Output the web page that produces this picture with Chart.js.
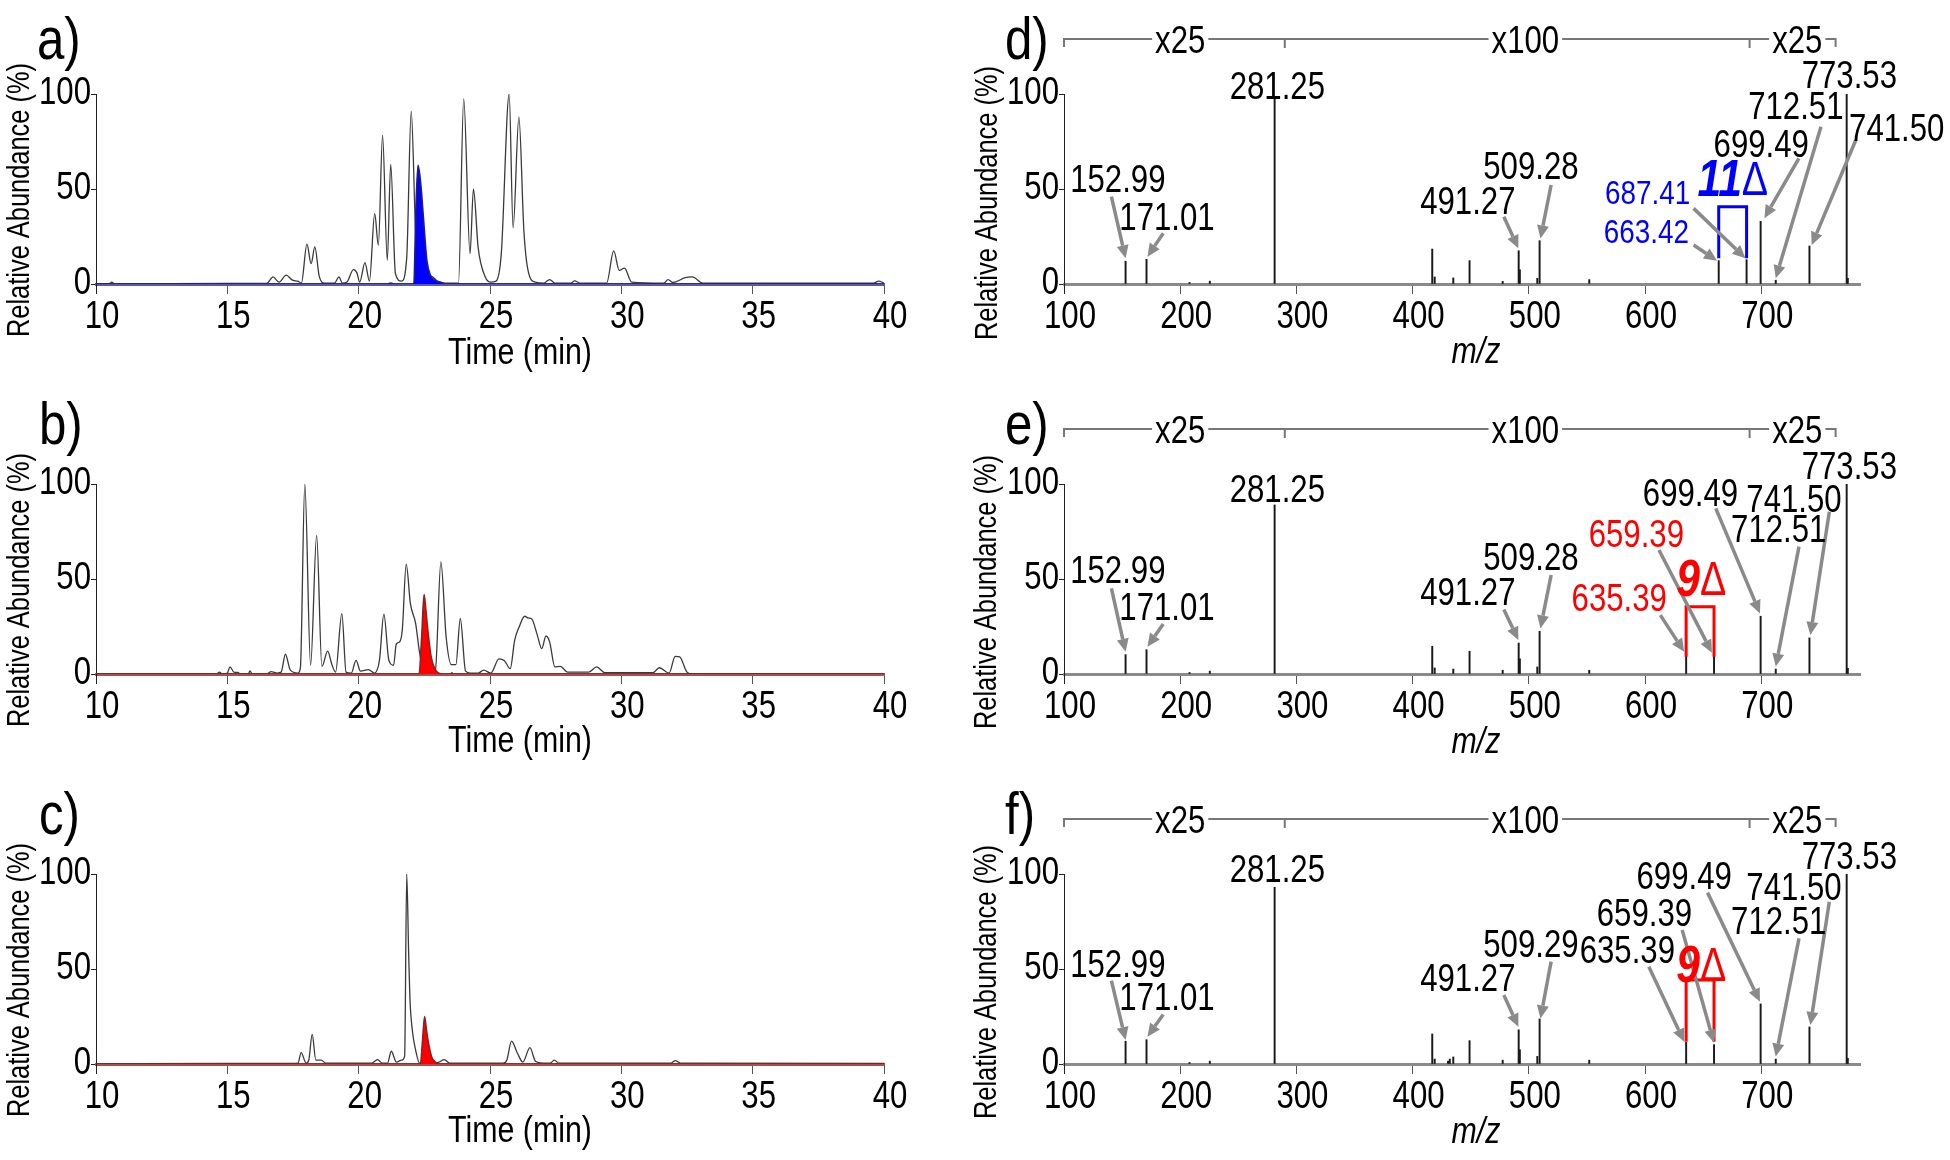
<!DOCTYPE html>
<html>
<head>
<meta charset="utf-8">
<script src="https://cdn.jsdelivr.net/npm/chart.js@4.4.1/dist/chart.umd.min.js"></script>
<style>
  body { margin: 0; background: #fff; }
  #fig { position: relative; width: 1950px; height: 1160px; overflow: hidden; }
  canvas { position: absolute; }
</style>
</head>
<body>
<div id="fig">
  <canvas id="a" width="960" height="390" style="left:0;top:0"></canvas>
  <canvas id="b" width="960" height="390" style="left:0;top:390px"></canvas>
  <canvas id="c" width="960" height="380" style="left:0;top:780px"></canvas>
  <canvas id="d" width="990" height="390" style="left:960px;top:0"></canvas>
  <canvas id="e" width="990" height="390" style="left:960px;top:390px"></canvas>
  <canvas id="f" width="990" height="380" style="left:960px;top:780px"></canvas>
</div>
<script>
const FONT = '"Liberation Sans", Arial, sans-serif';
const NARROW = 0.82;   // no narrow face installed, so squeeze the glyphs
Chart.defaults.font.family = FONT;
Chart.defaults.color = '#000';

// chromatograms, [time (min), relative abundance (%)]
const traceA = [[10,0],[10.5,0],[10.6,1],[10.7,0],[15,0.3],[16.5,0.3],[16.74,3.7],[16.97,1],[17.24,4.7],[17.48,2],
  [17.68,1.5],[17.82,0.5],[18.03,21],[18.19,10.7],[18.33,19.5],[18.5,4],[18.7,0.5],[19.08,0.5],[19.25,3.7],[19.38,0.5],
  [19.55,1],[19.8,7.6],[19.93,6],[20.04,1],[20.24,11.2],[20.41,1.5],[20.61,37],[20.75,20.4],[20.91,78.4],[21.09,12.5],
  [21.22,63],[21.4,5.4],[21.63,1.5],[21.83,14],[22.0,91],[22.17,26.5],[22.3,5],[22.5,3.5],[22.78,4],[22.99,1.5],
  [23.2,0.5],[23.8,0.5],[24.0,97.4],[24.24,16],[24.37,50],[24.55,19],[24.82,3.7],[25.03,1],[25.23,1.5],[25.43,16],
  [25.73,100],[25.88,29.5],[26.1,88],[26.29,28],[26.45,7],[26.72,1],[27.05,0.5],[27.27,2.3],[27.47,0.5],[28.08,0.5],
  [28.22,1.6],[28.43,0.5],[29.44,0.5],[29.71,17.4],[29.92,7.2],[30.12,8.4],[30.39,1],[31.62,0.5],[31.78,2.3],[31.96,0.8],
  [32.43,3.3],[32.7,3.7],[33.1,0.5],[39.6,0.5],[39.8,1.5],[40,0.5]];
const selA = [[10,0],[21.1,0],[21.22,0.5],[21.35,0],[22.1,0],[22.18,40],[22.26,62.5],[22.33,57],[22.4,47],[22.51,26.5],
  [22.6,12],[22.72,5],[22.9,2],[23.1,1],[23.33,0],[40,0]];

const traceB = [[10,0],[14.6,0],[14.7,1],[14.8,0],[15.0,0.5],[15.1,3.7],[15.25,1],[15.4,0.8],[15.5,0],[15.8,0],
  [15.86,1.6],[15.95,0],[16.5,0],[16.67,1.2],[16.9,0.5],[17.05,1],[17.21,10.4],[17.4,2],[17.68,0.5],[17.78,3],
  [17.95,100],[18.17,4.6],[18.4,73],[18.6,4],[18.82,12],[18.98,5],[19.12,1],[19.36,31.8],[19.52,1],[19.72,0.5],
  [19.9,7.2],[20.07,1.5],[20.37,2.3],[20.6,0.5],[20.79,7.2],[20.96,31.5],[21.15,7.2],[21.33,4.6],[21.43,15.6],[21.56,16.9],
  [21.66,23],[21.81,57.8],[21.97,37],[22.17,26.5],[22.31,12],[22.45,3],[22.7,0.5],[22.92,2],[23.13,59],[23.33,19.5],
  [23.53,4.9],[23.7,4.9],[23.87,29.2],[24.07,1.5],[24.25,0.5],[24.55,0.5],[24.76,2],[25.03,0.5],[25.34,8],[25.55,7],
  [25.77,2.8],[25.94,17.8],[26.11,24.8],[26.32,30.4],[26.45,29.5],[26.59,29],[26.79,21],[26.97,13.4],[27.13,20],[27.27,16.9],
  [27.47,3.7],[27.68,4],[27.95,1],[28.76,1],[29.06,3.7],[29.37,0.7],[31.2,0.7],[31.45,3.3],[31.82,0.5],[32.05,9.3],
  [32.22,9],[32.5,1],[32.7,0],[40,0]];
const selB = [[10,0],[22.3,0],[22.4,20],[22.49,41.8],[22.55,35],[22.62,24.8],[22.76,9],[22.92,2.3],[23.19,0],[23.5,0],
  [23.55,0.6],[23.6,0],[40,0]];

const traceC = [[10,0],[15,0.3],[17.5,0.3],[17.69,0.5],[17.81,6],[18.0,0.5],[18.1,2],[18.23,15.6],[18.37,2],[18.57,2],
  [18.75,0.5],[20.5,0.5],[20.72,2.3],[20.9,0.5],[21.1,0.5],[21.24,6.7],[21.44,1],[21.63,2],[21.75,4],[21.83,100],
  [21.9,60],[21.95,35],[22.05,17],[22.17,7.2],[22.32,0.5],[22.9,0.5],[23.06,1],[23.26,2.3],[23.46,0.5],[25.5,0.5],
  [25.64,2],[25.82,12],[26.05,5.5],[26.25,1],[26.52,8.6],[26.73,1.5],[27,0.5],[27.29,0.5],[27.45,2],[27.62,0.5],
  [31.9,0.5],[32.05,1.8],[32.25,0.5],[40,0.3]];
const selC = [[10,0],[22.35,0],[22.43,12],[22.51,25],[22.58,18],[22.65,11.6],[22.78,3.7],[22.92,1],[23.05,0],[40,0]];

// spectra, m/z and relative abundance (%)
const mzD  = [152.99,171.01,208,225.5,281.25,416.9,419,435,449,477.5,491.27,492.28,507.3,509.28,552,663.42,687.41,699.49,712.51,741.50,773.53,774.5];
const intD = [12,13,0.8,1.5,97.5,18.4,3.7,3.2,12.3,1.4,17.5,7.5,3,22.8,2.3,12.3,12.8,33,2,20,100,3];
const mzE  = [152.99,171.01,208,225.5,281.25,416.9,419,435,449,477.5,491.27,492.28,507.3,509.28,552,635.39,659.39,699.49,712.51,741.50,773.53,774.5];
const intE = [10.2,12.8,0.8,1.5,89,14.6,3.2,2.6,12,2,16.3,8,3.7,22.5,2,9.3,9.3,30.4,2.6,19,100,3];
const mzF  = [152.99,171.01,208,225.5,281.25,416.9,419,430.5,432,435,449,477.5,491.27,492.28,507.3,509.29,552,635.39,659.39,699.49,712.51,741.50,773.53,774.5];
const intF = [12,12.8,0.8,1.5,93,15.8,2.6,1.5,2.6,3.7,12.3,2,18,7.5,4,23.7,2,11.4,10.2,31.6,2.6,19.5,100,3];

// magnification bracket above the spectra
const zoomBreaks = [100, 290, 690, 764];
const zoomLabels = [['x25', 200], ['x100', 497], ['x25', 731]];

const RED = '#ff0000', BLUE = '#0000ff';

// per-panel text, arrows and boxes (data units)
const deco = {
  a: { letter: 'a)', lx: 37, ly: 42, xt: 'Time (min)', tx: 520, ty: 354, yx: 20, yy: 200 },
  b: { letter: 'b)', lx: 39, ly: 37, xt: 'Time (min)', tx: 520, ty: 352, yx: 20, yy: 200 },
  c: { letter: 'c)', lx: 39, ly: 37, xt: 'Time (min)', tx: 520, ty: 352, yx: 20, yy: 200 },
  d: { letter: 'd)', lx: 45, ly: 42, xt: 'm/z', italic: true, tx: 516, ty: 353, yx: 28, yy: 203, spec: true,
    labels: [['281.25',283.6,103],['152.99',146.3,53.9],['171.01',188.6,33.7],['491.27',447.5,42.1],['509.28',501.8,60.9],
      ['687.41',602.2,46.8,BLUE,34],['663.42',601.2,26.7,BLUE,34],['699.49',700,72.3],['712.51',729.8,92.5],
      ['741.50',816.6,81],['773.53',775.8,108.8]],
    delta: ['11', 675.6, 53.9, BLUE],
    box: [663.42, 687.41, 13.5, 40.7, BLUE],
    arrows: [[140.8,46,153,13.5],[185.4,26.7,171.8,14.4],[478.5,35.4,491,18.8],[519.2,52.1,510,24],[641.8,39.8,686.4,13.5],
      [641.8,20.5,662,12.3],[732.4,66.1,702.7,34.6],[751.4,82.8,712.5,3],[781.4,75.8,743.4,20.5]] },
  e: { letter: 'e)', lx: 45, ly: 37, xt: 'm/z', italic: true, tx: 516, ty: 353, yx: 27, yy: 202, spec: true,
    labels: [['281.25',283.6,96],['152.99',146.3,53.3],['171.01',188.6,33.7],['491.27',447.5,41.6],['509.28',501.8,60.4],
      ['659.39',592.5,72.3,RED],['635.39',577.8,38.9,RED],['699.49',639.1,94.2],['741.50',728.2,90.7],
      ['712.51',715.1,75],['773.53',775.8,108.3]],
    delta: ['9', 648.4, 48.6, RED],
    box: [635.39, 659.39, 9.1, 35.4, RED],
    arrows: [[140.8,45.1,153,11.7],[185.4,26.3,171.8,14.4],[478.5,34,491,17.9],[519.2,52.1,510,24],[612,65.3,657.6,11.2],
      [613.2,31,633.7,11.7],[660.9,87.2,698.9,31.9],[732.5,67,712.5,3.9],[758.6,85.4,742.3,20.5]] },
  f: { letter: 'f)', lx: 45, ly: 37, xt: 'm/z', italic: true, tx: 516, ty: 353, yx: 27, yy: 202, spec: true,
    labels: [['281.25',283.6,101.2],['152.99',146.3,51.2],['171.01',188.6,33.7],['491.27',447.5,44.2],['509.29',501.8,61.8],
      ['635.39',584.8,58.6],['659.39',599.5,78.4],['699.49',633.7,97.7],['741.50',728.2,91.6],
      ['712.51',715.1,73.7],['773.53',775.8,108.3]],
    delta: ['9', 648.4, 50.9, RED],
    box: [635.39, 659.39, 11.7, 44.2, RED],
    arrows: [[140.8,43.9,153,12.6],[185.4,26.1,171.8,14.4],[478.5,36.3,491,19.6],[519.2,53.9,510,24],[603.3,51.2,633.7,11.7],
      [632,70.5,659.3,11.2],[653.8,90.2,698.9,32.8],[732.5,66.1,712.5,3.9],[758.6,85.4,742.3,20.5]] }
};

function arrow(ctx, x1, y1, x2, y2) {
  const ang = Math.atan2(y2 - y1, x2 - x1), L = 13, W = 6;
  const bx = x2 - L * Math.cos(ang), by = y2 - L * Math.sin(ang);
  ctx.beginPath(); ctx.moveTo(x1, y1); ctx.lineTo(bx, by); ctx.stroke();
  ctx.beginPath(); ctx.moveTo(x2, y2);
  ctx.lineTo(bx + W * Math.sin(ang), by - W * Math.cos(ang));
  ctx.lineTo(bx - W * Math.sin(ang), by + W * Math.cos(ang));
  ctx.closePath(); ctx.fill();
}

// condensed text: font string, anchor, colour, rotation
function txt(ctx, s, x, y, font, align, color, rot) {
  ctx.save();
  ctx.translate(x, y);
  if (rot) ctx.rotate(rot);
  ctx.scale(NARROW, 1);
  ctx.font = font + ' ' + FONT;
  ctx.textAlign = align || 'center';
  ctx.textBaseline = 'middle';
  ctx.fillStyle = color || '#000';
  ctx.fillText(s, 0, 0);
  ctx.restore();
}
function txtWidth(ctx, s, font) {
  ctx.font = font + ' ' + FONT;
  return ctx.measureText(s).width * NARROW;
}

const decor = {
  id: 'decor',
  afterDraw(chart) {
    const d = deco[chart.canvas.id];
    const ctx = chart.ctx, ca = chart.chartArea, xs = chart.scales.x, ys = chart.scales.y;
    const px = v => xs.getPixelForValue(v), py = v => ys.getPixelForValue(v);
    ctx.save();
    // y axis runs on past the baseline
    ctx.strokeStyle = '#222'; ctx.lineWidth = 1;
    ctx.beginPath(); ctx.moveTo(ca.left + 0.5, ca.bottom); ctx.lineTo(ca.left + 0.5, ca.bottom + 10); ctx.stroke();

    // tick labels
    xs.ticks.forEach(t => txt(ctx, String(t.value), px(t.value) + 6, ca.bottom + 34, '38px'));
    ys.ticks.forEach(t => txt(ctx, String(t.value), ca.left - 5, py(t.value), '38px', 'right'));

    txt(ctx, d.letter, d.lx, d.ly, '60px', 'left');
    txt(ctx, d.xt, d.tx, d.ty, (d.italic ? 'italic ' : '') + '37px');
    txt(ctx, 'Relative Abundance (%)', d.yx, d.yy, '31px', 'center', '#000', -Math.PI / 2);

    if (d.spec) {
      const by = 39;
      ctx.strokeStyle = '#777'; ctx.lineWidth = 2;
      ctx.beginPath();
      ctx.moveTo(px(zoomBreaks[0]), by + 8); ctx.lineTo(px(zoomBreaks[0]), by);
      ctx.lineTo(px(zoomBreaks[3]), by); ctx.lineTo(px(zoomBreaks[3]), by + 8);
      ctx.moveTo(px(zoomBreaks[1]), by); ctx.lineTo(px(zoomBreaks[1]), by + 9);
      ctx.moveTo(px(zoomBreaks[2]), by); ctx.lineTo(px(zoomBreaks[2]), by + 9);
      ctx.stroke();
      zoomLabels.forEach(([t, m]) => {
        const w = txtWidth(ctx, t, '38px');
        ctx.fillStyle = '#fff'; ctx.fillRect(px(m) - w / 2 - 3, by - 4, w + 6, 8);
        txt(ctx, t, px(m), 43, '38px');
      });

      // bracket over the diagnostic pair
      const [b0, b1, bl, bt, bc] = d.box;
      ctx.strokeStyle = bc; ctx.lineWidth = 3;
      ctx.beginPath();
      ctx.moveTo(px(b0), py(bl)); ctx.lineTo(px(b0), py(bt)); ctx.lineTo(px(b1), py(bt)); ctx.lineTo(px(b1), py(bl));
      ctx.stroke();

      ctx.strokeStyle = '#8a8a8a'; ctx.fillStyle = '#8a8a8a'; ctx.lineWidth = 3.5;
      d.arrows.forEach(a => arrow(ctx, px(a[0]), py(a[1]), px(a[2]), py(a[3])));

      d.labels.forEach(l => txt(ctx, l[0], px(l[1]), py(l[2]), (l[4] || 38) + 'px', 'center', l[3] || '#000'));

      // "nΔ" tag
      const [num, dm, da, dc] = d.delta;
      const wn = txtWidth(ctx, num, 'italic bold 52px'), wd = txtWidth(ctx, '\u0394', '48px');
      const x0 = px(dm) - (wn + wd) / 2, y0 = py(da);
      txt(ctx, num, x0, y0, 'italic bold 52px', 'left', dc);
      txt(ctx, '\u0394', x0 + wn, y0, '48px', 'left', dc);
    }
    ctx.restore();
  }
};

function axes(W, H, left, right, x) {
  return {
    responsive: false, animation: false, devicePixelRatio: 1,
    layout: { padding: { left: 0, top: 94, right: W - right, bottom: 0 } },
    plugins: { legend: { display: false }, tooltip: { enabled: false } },
    scales: {
      x: {
        type: 'linear', min: x.min, max: x.max, offset: false,
        afterFit: s => { s.height = H - 284; },
        border: { color: x.border, width: x.bw },
        grid: { drawOnChartArea: false, offset: false, tickLength: 10, color: '#555' },
        ticks: { stepSize: x.step, includeBounds: false, display: false }
      },
      y: {
        min: 0, max: 100,
        afterFit: s => { s.width = left; },
        border: { color: '#222', width: 1 },
        grid: { drawOnChartArea: false, tickLength: 5, color: '#222' },
        ticks: { stepSize: 50, display: false }
      }
    }
  };
}

function chrom(id, H, trace, sel, fill, line, axisCol) {
  new Chart(document.getElementById(id), {
    type: 'line',
    data: { datasets: [
      { data: sel, borderColor: line, backgroundColor: fill, borderWidth: 1.6, fill: 'origin',
        pointRadius: 0, cubicInterpolationMode: 'monotone' },
      { data: trace, borderColor: '#3a3a3a', borderWidth: 1.3, fill: false,
        pointRadius: 0, cubicInterpolationMode: 'monotone' }
    ] },
    options: axes(960, H, 96, 884, { min: 10, max: 40, step: 5, border: axisCol, bw: 3 }),
    plugins: [decor]
  });
}

function spec(id, H, mz, ab) {
  new Chart(document.getElementById(id), {
    type: 'bar',
    data: { datasets: [
      { data: mz.map((m, i) => ({ x: m, y: ab[i] })), backgroundColor: '#1a1a1a',
        barThickness: 1.3, borderWidth: 0, grouped: false }
    ] },
    options: axes(990, H, 104, 900, { min: 100, max: 785, step: 100, border: '#8a8a8a', bw: 3 }),
    plugins: [decor]
  });
}

chrom('a', 390, traceA, selA, BLUE, '#1c1c8c', '#5a5aa8');
chrom('b', 390, traceB, selB, RED, '#8c2020', '#a85050');
chrom('c', 380, traceC, selC, RED, '#8c2020', '#a85050');
spec('d', 390, mzD, intD);
spec('e', 390, mzE, intE);
spec('f', 380, mzF, intF);
</script>
</body>
</html>
